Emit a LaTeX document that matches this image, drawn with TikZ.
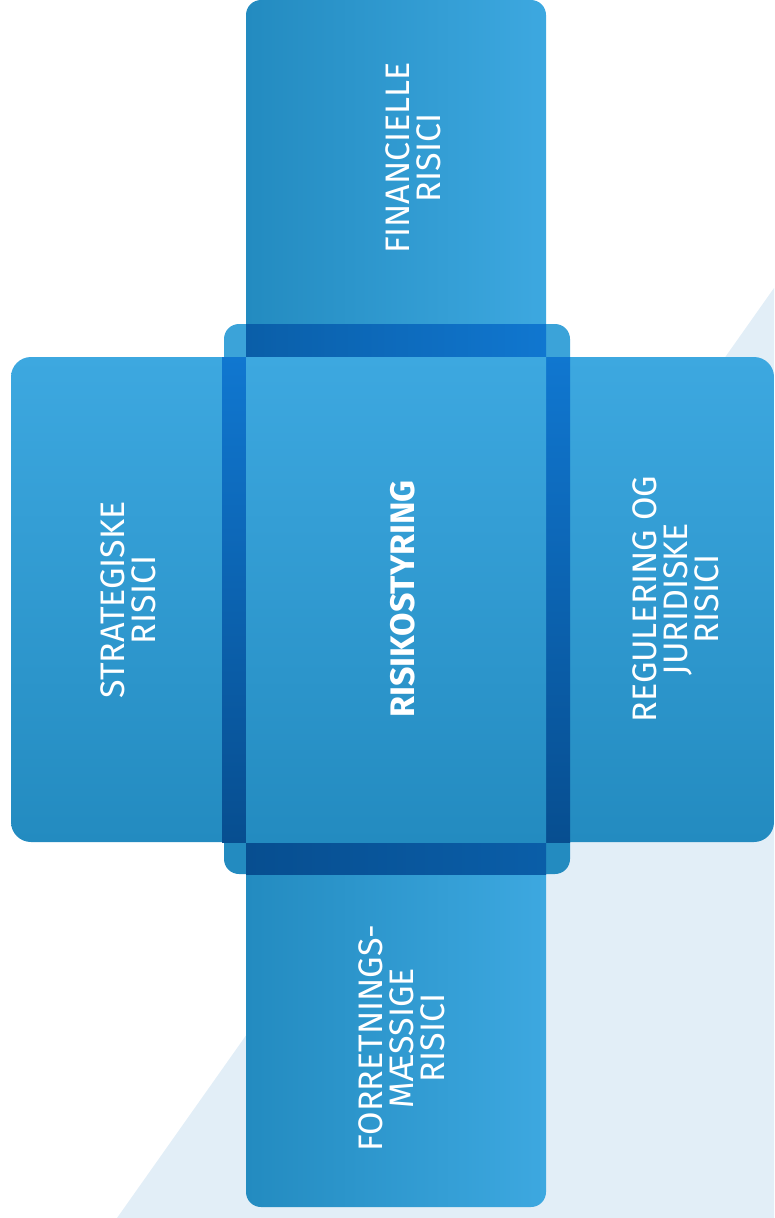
\documentclass[tikz,border=0pt]{standalone}
\usepackage{fontspec}
\setmainfont{Fira Sans}
\usetikzlibrary{calc}
\definecolor{bgblue}{HTML}{E2EEF7}
\definecolor{lightblue}{HTML}{3DA8E0}
\definecolor{midblue}{HTML}{238BC0}
\definecolor{bandlight}{HTML}{1077D0}
\definecolor{bandmid}{HTML}{0A5EA8}
\definecolor{banddark}{HTML}{074E90}
\tikzset{
  risklabel/.style={rotate=90, align=center, text=white, font=\fontsize{34}{31}\selectfont, inner sep=0pt},
  hpanel/.style={left color=midblue, right color=lightblue},
  vpanel/.style={top color=lightblue, bottom color=midblue}
}

\begin{document}
\begin{tikzpicture}[x=1pt,y=-1pt]
    \useasboundingbox (0,0) rectangle (774,1218); % Fixes the page...

    \fill[bgblue] (774,288) -- (117,1218) -- (774,1218) -- cycle;

    % side panels
    \shade[hpanel] (246,330) [rounded corners=15] -- (246,0) -- (546,0) [sharp corners] -- (546,330) -- cycle;
    \shade[hpanel] (246,870) -- (546,870) [rounded corners=15] -- (546,1207) -- (246,1207) [sharp corners] -- cycle;
    \shade[vpanel] (230,357) [rounded corners=20] -- (11,357) -- (11,842) [sharp corners] -- (230,842) -- cycle;
    \shade[vpanel] (560,357) [rounded corners=20] -- (774,357) -- (774,842) [sharp corners] -- (560,842) -- cycle;

    % corner tabs
    \fill[lightblue!97!black] (246,357) -- (224,357) [rounded corners=15] -- (224,324) [sharp corners] -- (246,324) -- cycle;
    \fill[lightblue!97!black] (546,357) -- (570,357) [rounded corners=15] -- (570,324) [sharp corners] -- (546,324) -- cycle;
    \fill[midblue] (246,842) -- (224,842) [rounded corners=15] -- (224,874) [sharp corners] -- (246,874) -- cycle;
    \fill[midblue] (546,842) -- (570,842) [rounded corners=15] -- (570,874) [sharp corners] -- (546,874) -- cycle;

    % frame round the middle
    \shade[left color=bandmid, right color=bandlight] (246,324) rectangle (546,357);
    \shade[left color=banddark, right color=bandmid] (246,842) rectangle (546,874);
    \shade[top color=bandlight, bottom color=banddark] (222,357) rectangle (246,842);
    \shade[top color=bandlight, bottom color=banddark] (546,357) rectangle (570,842);
    \shade[vpanel] (246,357) rectangle (546,842);

    \node[risklabel, font=\fontsize{34}{31}\selectfont\bfseries] (center) at (403,599) {RISIKOSTYRING};
    \node[risklabel] (fin) at (413,158) {FINANCIELLE\\RISICI};
    \node[risklabel] (strat) at (128,600) {STRATEGISKE\\RISICI};
    \node[risklabel] (reg) at (676,599) {REGULERING OG\\JURIDISKE\\RISICI};
    \node[risklabel] (forr) at (402,1038) {FORRETNINGS-\\MÆSSIGE\\RISICI};
  \end{tikzpicture}
\end{document}
